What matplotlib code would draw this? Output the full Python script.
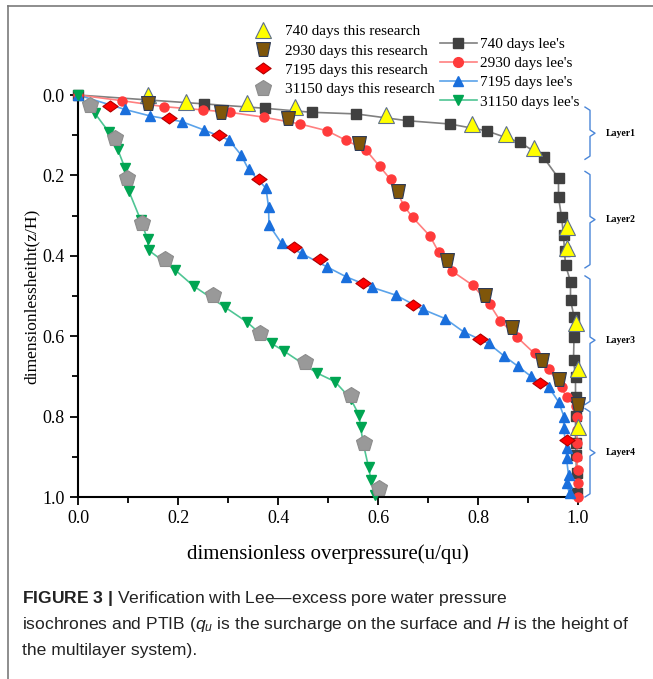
import matplotlib
matplotlib.use("Agg")
import matplotlib.pyplot as plt
from matplotlib.lines import Line2D
from matplotlib.path import Path
import numpy as np

plt.rcParams['font.family'] = ['Liberation Serif', 'DejaVu Serif']
plt.rcParams['mathtext.fontset'] = 'custom'
plt.rcParams['mathtext.rm'] = 'Liberation Sans'
plt.rcParams['mathtext.it'] = 'Liberation Sans:italic'
plt.rcParams['mathtext.bf'] = 'Liberation Sans:bold'

# lee's curves
lee740_x = [0, 0.251, 0.373, 0.467, 0.556, 0.659, 0.743, 0.817, 0.884, 0.931, 0.961, 0.961, 0.967,
            0.971, 0.973, 0.975, 0.985, 0.985, 0.992, 0.992, 0.991, 0.995, 0.995, 0.995, 0.995,
            0.996, 0.997, 0.997]
lee740_y = [0, 0.022, 0.033, 0.043, 0.047, 0.064, 0.072, 0.089, 0.118, 0.155, 0.207, 0.254, 0.303,
            0.348, 0.388, 0.423, 0.464, 0.51, 0.551, 0.603, 0.659, 0.701, 0.75, 0.799, 0.865,
            0.896, 0.941, 0.991]

lee2930_x = [0, 0.087, 0.172, 0.249, 0.303, 0.371, 0.444, 0.498, 0.535, 0.576, 0.603, 0.625, 0.639,
             0.652, 0.669, 0.704, 0.721, 0.748, 0.789, 0.823, 0.844, 0.877, 0.913, 0.941, 0.967,
             0.977, 0.996, 0.997, 0.998, 0.998, 0.998, 0.999, 0.999, 1.0]
lee2930_y = [0, 0.014, 0.029, 0.037, 0.043, 0.055, 0.072, 0.089, 0.112, 0.137, 0.177, 0.210, 0.243,
             0.276, 0.304, 0.351, 0.390, 0.438, 0.473, 0.520, 0.561, 0.601, 0.643, 0.682, 0.727,
             0.752, 0.774, 0.800, 0.833, 0.866, 0.9, 0.933, 0.966, 1.0]

lee7195_x = [0, 0.094, 0.144, 0.207, 0.252, 0.302, 0.326, 0.341, 0.376, 0.381, 0.382, 0.407, 0.447,
             0.497, 0.536, 0.587, 0.636, 0.689, 0.734, 0.771, 0.821, 0.852, 0.879, 0.905, 0.941,
             0.961, 0.972, 0.971, 0.977, 0.977, 0.981, 0.977, 0.983]
lee7195_y = [0, 0.036, 0.052, 0.066, 0.087, 0.112, 0.149, 0.185, 0.232, 0.278, 0.323, 0.369, 0.394,
             0.427, 0.452, 0.478, 0.498, 0.533, 0.556, 0.589, 0.618, 0.649, 0.674, 0.699, 0.726,
             0.763, 0.800, 0.829, 0.879, 0.904, 0.945, 0.966, 0.991]

lee31150_x = [0, 0.034, 0.061, 0.079, 0.094, 0.102, 0.125, 0.139, 0.141, 0.194, 0.231, 0.293, 0.337,
              0.387, 0.412, 0.477, 0.514, 0.545, 0.562, 0.565, 0.571, 0.581, 0.586, 0.594]
lee31150_y = [0, 0.046, 0.091, 0.134, 0.182, 0.240, 0.31, 0.359, 0.386, 0.435, 0.475, 0.527, 0.564,
              0.618, 0.637, 0.691, 0.713, 0.755, 0.796, 0.825, 0.87, 0.925, 0.958, 0.995]

# this research
r740_x = [0.139, 0.216, 0.337, 0.434, 0.616, 0.787, 0.856, 0.911, 0.977, 0.977, 0.996, 1.0, 1.0]
r740_y = [0.0, 0.017, 0.021, 0.029, 0.050, 0.073, 0.097, 0.131, 0.328, 0.381, 0.568, 0.682, 0.825]

r2930_x = [0.139, 0.285, 0.419, 0.561, 0.639, 0.737, 0.814, 0.867, 0.927, 0.961, 1.0]
r2930_y = [0.019, 0.043, 0.058, 0.119, 0.240, 0.410, 0.498, 0.576, 0.659, 0.707, 0.769]

r7195_x = [0.064, 0.181, 0.281, 0.361, 0.431, 0.484, 0.569, 0.669, 0.804, 0.924, 0.977]
r7195_y = [0.027, 0.058, 0.100, 0.210, 0.377, 0.409, 0.467, 0.522, 0.608, 0.717, 0.857]

r31150_x = [0.024, 0.074, 0.097, 0.127, 0.174, 0.269, 0.363, 0.454, 0.546, 0.571, 0.601]
r31150_y = [0.025, 0.108, 0.207, 0.319, 0.409, 0.498, 0.591, 0.663, 0.747, 0.865, 0.978]

layer_names = ["Layer1", "Layer2", "Layer3", "Layer4"]
layer_top = [0.03, 0.19, 0.45, 0.78]
layer_bot = [0.16, 0.43, 0.77, 1.0]

trap = Path([(-1, 1), (1, 1), (0.6, -1), (-0.6, -1), (-1, 1)],
            [Path.MOVETO, Path.LINETO, Path.LINETO, Path.LINETO, Path.CLOSEPOLY])
diam = Path([(-1, 0), (0, 0.72), (1, 0), (0, -0.72), (-1, 0)],
            [Path.MOVETO, Path.LINETO, Path.LINETO, Path.LINETO, Path.CLOSEPOLY])

fig = plt.figure(figsize=(6.53, 6.79), dpi=100)
ax = fig.add_axes([78/653, 1-497/679, 500/653, 402/679])

lee_style = [
    (lee740_x, lee740_y, 's', '#404040', '#808080', "740 days lee's"),
    (lee2930_x, lee2930_y, 'o', '#ff3b3b', '#ff8080', "2930 days lee's"),
    (lee7195_x, lee7195_y, '^', '#1a6fdc', '#5ba3ea', "7195 days lee's"),
    (lee31150_x, lee31150_y, 'v', '#00a552', '#4fc594', "31150 days lee's"),
]
lee_handles = []
for x, y, m, mc, lc, lab in lee_style:
    ax.plot(x, y, color=lc, lw=1.2, zorder=2, clip_on=False)
    ax.plot(x, y, ls='none', marker=m, ms=6.5, mfc=mc, mec=mc, zorder=3, clip_on=False)
    lee_handles.append(Line2D([], [], color=lc, lw=1.2, marker=m, ms=7, mfc=mc, mec=mc, label=lab))

res_style = [
    (r740_x, r740_y, '^', 11, '#ffff00', '#5d6f8c', "740 days this research"),
    (r2930_x, r2930_y, trap, 10, '#7f560a', '#2e3a55', "2930 days this research"),
    (r7195_x, r7195_y, diam, 11, '#ff0000', '#b00000', "7195 days this research"),
    (r31150_x, r31150_y, 'p', 12, '#999999', '#8c8c8c', "31150 days this research"),
]
res_handles = []
for x, y, m, ms, fc, ec, lab in res_style:
    ax.plot(x, y, ls='none', marker=m, ms=ms, mfc=fc, mec=ec, mew=0.8, zorder=4, clip_on=False)
    res_handles.append(Line2D([], [], ls='none', marker=m, ms=ms, mfc=fc, mec=ec, mew=0.8, label=lab))

ax.set_xlim(0, 1.0)
ax.set_ylim(1.0, 0)
ax.set_xticks(np.arange(0, 1.01, 0.2))
ax.set_yticks(np.arange(0, 1.01, 0.2))
ax.set_xticks(np.arange(0.1, 1.0, 0.2), minor=True)
ax.set_yticks(np.arange(0.1, 1.0, 0.2), minor=True)
ax.xaxis.set_major_formatter(matplotlib.ticker.FormatStrFormatter('%.1f'))
ax.yaxis.set_major_formatter(matplotlib.ticker.FormatStrFormatter('%.1f'))
ax.tick_params(which='major', direction='out', length=6, width=1.3, labelsize=13)
ax.tick_params(which='minor', direction='out', length=4, width=1.3)
for s in ['top', 'right']:
    ax.spines[s].set_visible(False)
for s in ['left', 'bottom']:
    ax.spines[s].set_linewidth(1.5)

ax.set_xlabel("dimensionless overpressure(u/qu)", fontsize=15, labelpad=12)
ax.set_ylabel("dimensionlessheitht(z/H)", fontsize=12.5, labelpad=2)

# layer brackets
bc = '#4a86d8'
for name, t, b in zip(layer_names, layer_top, layer_bot):
    mid = (t + b) / 2
    bx = [1.014, 1.024, 1.024, 1.034, 1.024, 1.024, 1.014]
    by = [t, t + 0.008, mid - 0.008, mid, mid + 0.008, b - 0.008, b]
    ax.plot(bx, by, color=bc, lw=1.0, clip_on=False)
    ax.text(1.056, mid, name, fontsize=7, fontweight='bold', va='center', ha='left')

fig.legend(handles=res_handles, loc='upper left', bbox_to_anchor=(0.379, 0.9636), frameon=False,
           fontsize=11, borderpad=0, borderaxespad=0, handletextpad=0.45, labelspacing=0.36)
fig.legend(handles=lee_handles, loc='upper left', bbox_to_anchor=(0.674, 0.945), frameon=False,
           fontsize=11, borderpad=0, borderaxespad=0, handlelength=2.4, handletextpad=0.2,
           labelspacing=0.36)

# frame
fig.add_artist(Line2D([8/653, 1.0], [1-6/679, 1-6/679], color='#7a7a7a', lw=1.2))
fig.add_artist(Line2D([8/653, 8/653], [1-6/679, 0], color='#7a7a7a', lw=1.2))

cap = dict(fontsize=12.6, family='Liberation Sans', ha='left', va='center', color='#222222')
fig.text(22/653, 1-598/679, r"$\mathbf{FIGURE\ 3\ |}$ Verification with Lee—excess pore water pressure", **cap)
fig.text(22/653, 1-624/679, r"isochrones and PTIB ($q_u$ is the surcharge on the surface and $H$ is the height of", **cap)
fig.text(22/653, 1-651/679, "the multilayer system).", **cap)

fig.savefig("out.png", dpi=100)
